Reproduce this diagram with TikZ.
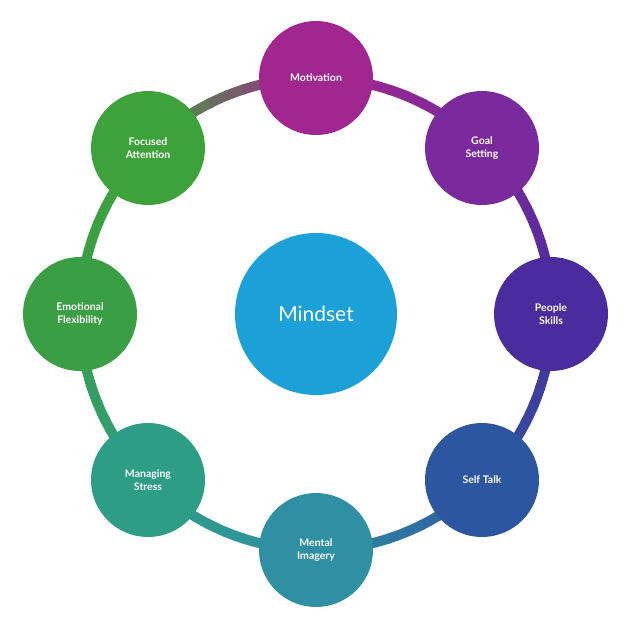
\documentclass[tikz,border=0pt]{standalone}
\usepackage{fontspec}
\setmainfont{Lato}
\definecolor{c0}{HTML}{A1268F}
\definecolor{c1}{HTML}{7A2A9C}
\definecolor{c2}{HTML}{4B2C9E}
\definecolor{c3}{HTML}{2D56A0}
\definecolor{c4}{HTML}{2F8FA3}
\definecolor{c5}{HTML}{2D9E85}
\definecolor{c6}{HTML}{3A9E45}
\definecolor{c7}{HTML}{3DA23A}
\definecolor{c8}{HTML}{A1268F}
\definecolor{mind}{HTML}{1BA0D8}
\begin{document}
\begin{tikzpicture}[x=1pt,y=-1pt,
  sat/.style={circle,minimum size=114pt,inner sep=0pt,text=white,font=\bfseries\fontsize{10.5}{13}\selectfont,align=center}]
\useasboundingbox (0,0) rectangle (630,630);
\fill[white] (0,0) rectangle (630,630);
\foreach \i [evaluate=\i as \n using int(\i+1)] in {0,...,7}{
  \foreach \j in {0,...,9}{
    \pgfmathtruncatemacro{\p}{100-10*\j-5}
    \pgfmathsetmacro{\s}{270+45*\i+4.5*\j}
    \pgfmathsetmacro{\e}{\s+5}
    \draw[line width=10pt,color=c\i!\p!c\n,shift={(316,314)}] (\s:236) arc[start angle=\s,end angle=\e,radius=236];
  }
}
\node[circle,minimum size=162pt,fill=mind,text=white,font=\fontsize{21}{25}\selectfont] (m) at (316,314) {Mindset};
\node[sat,fill=c0] (n0) at (316,78) {Motivation};
\node[sat,fill=c1] (n1) at (482,148) {Goal\\Setting};
\node[sat,fill=c2] (n2) at (551,314) {People\\Skills};
\node[sat,fill=c3] (n3) at (482,480) {Self Talk};
\node[sat,fill=c4] (n4) at (316,550) {Mental\\Imagery};
\node[sat,fill=c5] (n5) at (148,480) {Managing\\Stress};
\node[sat,fill=c6] (n6) at (80,314) {Emotional\\Flexibility};
\node[sat,fill=c7] (n7) at (148,148) {Focused\\Attention};
\end{tikzpicture}
\end{document}
